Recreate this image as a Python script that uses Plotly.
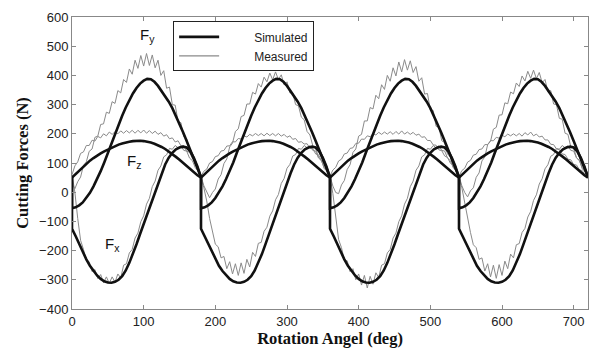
import plotly.graph_objects as go

# ---------------- data ----------------
# simulated curves (5-degree grid, junction points repeated at 0/180/360/540)
sim_step = 5
sim_x = [0] + [180 * p + a for p in range(4) for a in range(0, 181, sim_step)]

fx_sim = [50,
    -125, -150, -178, -205, -230, -252, -270, -285, -297, -305, -309, -310, -307, -300, -288, -268, -242, -212, -178, -143, -108, -72, -40, -5, 30, 65, 95, 118, 135, 147, 153, 156, 153, 140, 118, 88, 50,
    -125, -150, -178, -205, -230, -252, -270, -285, -297, -305, -309, -310, -307, -300, -288, -268, -242, -212, -178, -143, -108, -72, -40, -5, 30, 65, 95, 118, 135, 147, 153, 156, 153, 140, 118, 88, 50,
    -125, -150, -178, -205, -230, -252, -270, -285, -297, -305, -309, -310, -307, -300, -288, -268, -242, -212, -178, -143, -108, -72, -40, -5, 30, 65, 95, 118, 135, 147, 153, 156, 153, 140, 118, 88, 50,
    -125, -150, -178, -205, -230, -252, -270, -285, -297, -305, -309, -310, -307, -300, -288, -268, -242, -212, -178, -143, -108, -72, -40, -5, 30, 65, 95, 118, 135, 147, 153, 156, 153, 140, 118, 88, 50]

fy_sim = [52,
    -55, -52, -45, -35, -20, -2, 20, 45, 72, 102, 135, 168, 200, 232, 262, 290, 315, 338, 357, 372, 382, 388, 387, 378, 364, 347, 329, 310, 288, 262, 234, 205, 175, 145, 115, 83, 52,
    -55, -52, -45, -35, -20, -2, 20, 45, 72, 102, 135, 168, 200, 232, 262, 290, 315, 338, 357, 372, 382, 388, 387, 378, 364, 347, 329, 310, 288, 262, 234, 205, 175, 145, 115, 83, 52,
    -55, -52, -45, -35, -20, -2, 20, 45, 72, 102, 135, 168, 200, 232, 262, 290, 315, 338, 357, 372, 382, 388, 387, 378, 364, 347, 329, 310, 288, 262, 234, 205, 175, 145, 115, 83, 52,
    -55, -52, -45, -35, -20, -2, 20, 45, 72, 102, 135, 168, 200, 232, 262, 290, 315, 338, 357, 372, 382, 388, 387, 378, 364, 347, 329, 310, 288, 262, 234, 205, 175, 145, 115, 83, 52]

fz_sim = [50,
    50, 62, 74, 86, 97, 108, 117, 126, 133, 140, 146, 152, 158, 163, 167, 171, 173, 175, 176, 176, 175, 173, 170, 166, 161, 155, 148, 140, 131, 121, 111, 100, 89, 78, 67, 58, 50,
    50, 62, 74, 86, 97, 108, 117, 126, 133, 140, 146, 152, 158, 163, 167, 171, 173, 175, 176, 176, 175, 173, 170, 166, 161, 155, 148, 140, 131, 121, 111, 100, 89, 78, 67, 58, 50,
    50, 62, 74, 86, 97, 108, 117, 126, 133, 140, 146, 152, 158, 163, 167, 171, 173, 175, 176, 176, 175, 173, 170, 166, 161, 155, 148, 140, 131, 121, 111, 100, 89, 78, 67, 58, 50,
    50, 62, 74, 86, 97, 108, 117, 126, 133, 140, 146, 152, 158, 163, 167, 171, 173, 175, 176, 176, 175, 173, 170, 166, 161, 155, 148, 140, 131, 121, 111, 100, 89, 78, 67, 58, 50]

# measured curves (4-degree sampling)
meas_x = list(range(0, 721, 4))

fy_meas = [
    30, 12, 36, 52, 92, 104, 140, 148, 188, 192, 232, 234, 274, 270, 310, 304, 348, 340, 386, 376, 422, 404, 452, 424, 468, 432, 475, 434, 470, 426, 452, 400, 416, 356, 360, 300, 298, 242, 238, 190, 183, 143, 131, 95, 78,
    55, 22, -1, -19, -1, 11, 45, 60, 98, 114, 155, 168, 208, 217, 259, 263, 302, 302, 342, 336, 372, 360, 394, 378, 408, 385, 412, 386, 402, 368, 378, 340, 340, 300, 296, 257, 248, 208, 196, 159, 150, 120, 109, 81, 71,
    55, 21, -1, -5, 25, 40, 78, 94, 136, 148, 192, 198, 244, 244, 290, 285, 332, 320, 368, 352, 400, 380, 426, 398, 446, 412, 454, 418, 450, 410, 430, 380, 392, 336, 338, 282, 280, 226, 222, 176, 170, 130, 121, 86, 76,
    55, 22, -1, -16, 5, 15, 51, 66, 107, 121, 163, 174, 216, 222, 264, 265, 306, 303, 343, 337, 374, 362, 398, 381, 414, 390, 418, 389, 410, 375, 386, 344, 348, 302, 300, 253, 250, 202, 198, 155, 151, 118, 109, 80, 70,
    55]

fx_meas = [
    60, 0, -90, -165, -196, -232, -238, -272, -265, -296, -282, -310, -290, -312, -290, -308, -280, -294, -250, -245, -208, -196, -157, -140, -101, -81, -41, -21, 19, 38, 75, 90, 121, 128, 150, 147, 160, 152, 159, 143, 141, 117, 108, 84, 72,
    50, 15, -30, -90, -134, -178, -187, -225, -220, -262, -238, -280, -245, -285, -242, -278, -230, -256, -206, -220, -175, -172, -134, -120, -82, -64, -26, -8, 30, 47, 82, 95, 124, 129, 150, 147, 160, 152, 159, 143, 141, 117, 108, 84, 72,
    55, -5, -95, -162, -190, -232, -235, -272, -262, -300, -280, -318, -285, -328, -288, -315, -276, -292, -250, -245, -208, -196, -157, -140, -101, -81, -41, -21, 19, 38, 75, 90, 121, 128, 150, 147, 160, 152, 159, 143, 141, 117, 108, 84, 72,
    50, 15, -35, -95, -138, -180, -190, -230, -225, -270, -245, -290, -250, -295, -248, -285, -236, -262, -212, -225, -180, -176, -138, -124, -85, -66, -28, -9, 28, 46, 80, 94, 123, 129, 150, 147, 160, 152, 159, 143, 141, 117, 108, 84, 72,
    55]

fz_meas = [
    60, 90, 104, 133, 138, 160, 160, 178, 175, 191, 186, 200, 193, 206, 198, 207, 200, 210, 202, 211, 203, 212, 202, 212, 203, 213, 202, 211, 201, 209, 198, 204, 192, 197, 183, 186, 172, 176, 159, 159, 140, 137, 115, 109, 80,
    55, 72, 79, 100, 105, 122, 125, 141, 143, 158, 159, 173, 172, 184, 182, 193, 189, 198, 193, 201, 194, 201, 193, 202, 194, 201, 193, 201, 192, 198, 188, 193, 181, 184, 171, 173, 165, 166, 151, 149, 131, 128, 108, 103, 68,
    55, 76, 85, 107, 113, 131, 134, 150, 152, 167, 168, 182, 181, 193, 190, 200, 196, 205, 198, 206, 199, 207, 198, 208, 199, 210, 199, 206, 198, 205, 195, 199, 188, 190, 177, 177, 162, 161, 145, 142, 124, 119, 99, 92, 72,
    55, 74, 82, 103, 109, 127, 130, 146, 148, 163, 163, 177, 176, 188, 185, 195, 190, 199, 193, 200, 193, 201, 192, 204, 196, 206, 193, 199, 189, 192, 179, 179, 164, 163, 148, 146, 131, 129, 113, 111, 95, 93, 77, 74, 58,
    50]

labels = [("F<sub>y</sub>", 106, 535), ("F<sub>z</sub>", 86, 105), ("F<sub>x</sub>", 56, -180)]
x_ticks = [0, 100, 200, 300, 400, 500, 600, 700]
y_ticks = [-400, -300, -200, -100, 0, 100, 200, 300, 400, 500, 600]

# ---------------- figure ----------------
SIM_COLOR = "#111111"
MEAS_COLOR = "#8a8a8a"
PAD = "\u00a0" * 9

fig = go.Figure()
for ys in [fy_meas, fz_meas, fx_meas]:
    fig.add_trace(go.Scatter(x=meas_x, y=ys, mode="lines",
                             line=dict(color=MEAS_COLOR, width=1),
                             name="Measured", legendgroup="m",
                             showlegend=False, hoverinfo="skip"))
for i, ys in enumerate([fy_sim, fz_sim, fx_sim]):
    fig.add_trace(go.Scatter(x=sim_x, y=ys, mode="lines",
                             line=dict(color=SIM_COLOR, width=2.6),
                             name=PAD + "Simulated", legendgroup="s",
                             showlegend=(i == 0), hoverinfo="skip"))
# legend entry for measured (after simulated)
fig.add_trace(go.Scatter(x=[None], y=[None], mode="lines",
                         line=dict(color=MEAS_COLOR, width=1.2),
                         name=PAD + "Measured", legendgroup="m", showlegend=True))

for txt, lx, ly in labels:
    fig.add_annotation(x=lx, y=ly, text=txt, showarrow=False,
                       font=dict(family="Liberation Sans, Arial", size=15, color="#111"))

axis_font = dict(family="Liberation Sans, Arial", size=13, color="#222")
title_font = dict(family="Liberation Serif, Times New Roman", size=16.5, color="#111")

fig.update_layout(
    width=589, height=354,
    margin=dict(l=72, r=1, t=17, b=45),
    paper_bgcolor="white", plot_bgcolor="white",
    showlegend=True,
    legend=dict(x=0.196, y=0.985, xanchor="left", yanchor="top",
                bgcolor="white", bordercolor="#222", borderwidth=1,
                font=dict(family="Liberation Sans, Arial", size=12, color="#222"),
                tracegroupgap=0, itemwidth=40),
    xaxis=dict(range=[0, 720], tickvals=x_ticks, ticks="inside", ticklen=4,
               tickcolor="#888", showline=True, linecolor="#888", linewidth=1,
               mirror="ticks", showgrid=False, zeroline=False, tickfont=axis_font,
               title=dict(text="<b>Rotation Angel (deg)</b>", font=title_font, standoff=3)),
    yaxis=dict(range=[-400, 600], tickvals=y_ticks, ticks="inside", ticklen=4,
               tickcolor="#888", showline=True, linecolor="#888", linewidth=1,
               mirror="ticks", showgrid=False, zeroline=False, tickfont=axis_font,
               title=dict(text="<b>Cutting Forces (N)</b>", font=title_font, standoff=6)),
)

fig.write_html("out.html")
